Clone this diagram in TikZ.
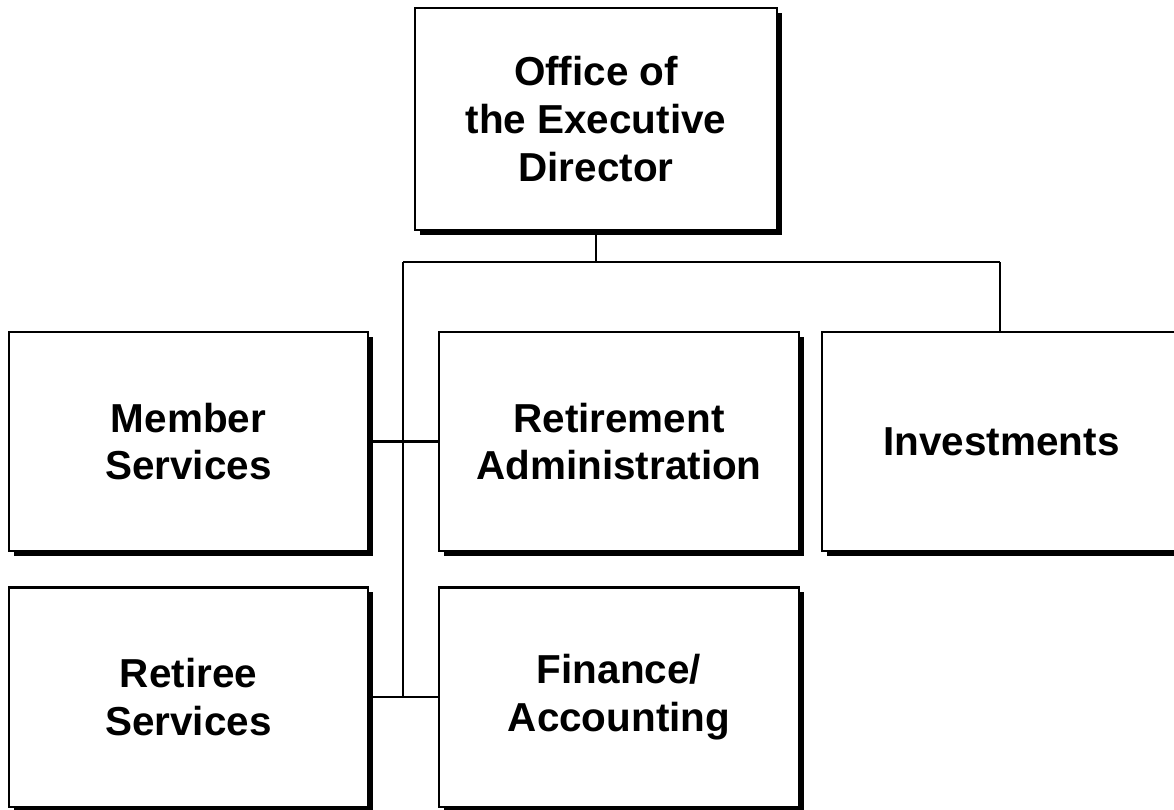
\documentclass[tikz,border=0pt]{standalone}
\usepackage{fontspec}
\setmainfont{Liberation Sans}
\usetikzlibrary{shadows}
\tikzset{%
    unit/.style={
      rectangle,
      draw,
      fill=white,
      line width=0.6pt,
      minimum width=3.59cm,
      minimum height=2.19cm,
      align=center,
      font=\fontsize{11.5}{13.6}\selectfont\bfseries,
      drop shadow={shadow xshift=0.05cm, shadow yshift=-0.05cm, fill=black, opacity=1}
    },
    link/.style={
      line width=0.6pt
    }
  }
\begin{document}
\begin{tikzpicture}[x=0.01cm, y=-0.01cm]
      \useasboundingbox (0,0) rectangle (1174,809);
      \clip (0,0) rectangle (1174,809);

      \node [unit, minimum width=3.62cm, minimum height=2.22cm] (exec) at (596,119) {Office of\\the Executive\\Director};

      \node [unit] (mem) at (188.5,441.5) {Member\\Services};
      \node [unit] (ret) at (619,441.5) {Retirement\\Administration};
      \node [unit] (inv) at (1001.5,441.5) {Investments};

      \node [unit] (rts) at (188.5,697) {Retiree\\Services};
      \node [unit] (fin) at (619,697) {Finance/\\Accounting};

      \coordinate (bus) at (596,262);
      \coordinate (left) at (403,262);
      \coordinate (right) at (1000,262);

      \draw [link] (exec.south) -- (bus);
      \draw [link] (left) -- (right);
      \draw [link] (right) -- (right |- inv.north);
      \draw [link] (left) -- (left |- fin.west);

      \draw [link] (mem.east) -- (ret.west);
      \draw [link] (rts.east) -- (fin.west);
\end{tikzpicture}
\end{document}
